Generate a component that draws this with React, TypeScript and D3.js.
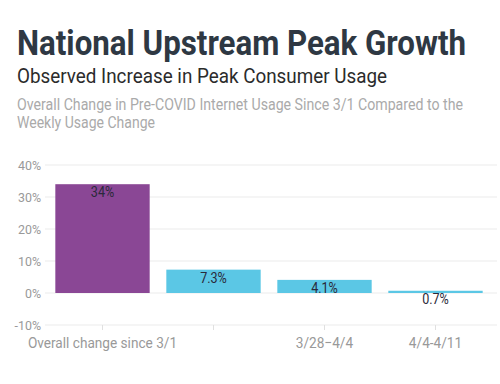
import React from 'react'
import * as d3 from 'd3'

const categories = ['Overall change since 3/1', '3/21–3/28', '3/28–4/4', '4/4-4/11']
const shownLabels = ['Overall change since 3/1', '', '3/28−4/4', '4/4-4/11']
const values = [34, 7.3, 4.1, 0.7]
const valueLabels = ['34%', '7.3%', '4.1%', '0.7%']
const yTicks = [-10, 0, 10, 20, 30, 40]

const W = 500, H = 384
const margin = { top: 165, right: 3, bottom: 59, left: 47 }
const font = 'Roboto, "Noto Sans", sans-serif'

export default function App() {
  const x = d3.scaleBand<string>()
    .domain(categories)
    .range([margin.left, 491])
    .paddingInner(0.15)
    .paddingOuter(0.075)
  const y = d3.scaleLinear().domain([-10, 40]).range([H - margin.bottom, margin.top])

  return (
    <svg width={W} height={H} style={{ position: 'absolute', left: 0, top: 0, background: '#fff' }}>
      <text x={17} y={55} fontFamily={font} fontWeight={700} fontSize={35} fill="#2e3843"
        textLength={449} lengthAdjust="spacingAndGlyphs">National Upstream Peak Growth</text>
      <text x={17} y={83} fontFamily={font} fontSize={21} fill="#2b2b2b"
        textLength={370} lengthAdjust="spacingAndGlyphs">Observed Increase in Peak Consumer Usage</text>
      <text x={17} y={110} fontFamily={font} fontSize={16} fill="#aaa"
        textLength={446} lengthAdjust="spacingAndGlyphs">Overall Change in Pre-COVID Internet Usage Since 3/1 Compared to the</text>
      <text x={17} y={128} fontFamily={font} fontSize={16} fill="#aaa"
        textLength={138} lengthAdjust="spacingAndGlyphs">Weekly Usage Change</text>

      {yTicks.map(t => (
        <g key={t}>
          <line x1={margin.left - 2} x2={497} y1={y(t)} y2={y(t)} stroke="#ebebeb" strokeWidth={1} />
          <text transform={`translate(41,${y(t) + 5}) scale(0.92,1)`} textAnchor="end"
            fontFamily={font} fontSize={13.5} fill="#999">{t}%</text>
        </g>
      ))}

      {categories.map((c, i) => {
        const v = values[i]
        const bx = x(c)!
        const cx = bx + x.bandwidth() / 2
        const top = y(Math.max(0, v))
        const h = Math.abs(y(v) - y(0))
        return (
          <g key={c}>
            <rect x={bx} y={top} width={x.bandwidth()} height={h}
              fill={i === 0 ? '#8a4795' : '#5bc7e5'} />
            <text transform={`translate(${cx},${y(v) + 13}) scale(0.9,1)`} textAnchor="middle"
              fontFamily={font} fontSize={14} fill="#2a2a3a">{valueLabels[i]}</text>
            <line x1={cx} x2={cx} y1={y(-10)} y2={y(-10) + 5} stroke="#e0e0e0" />
            <text transform={`translate(${cx},${y(-10) + 23}) scale(0.88,1)`} textAnchor="middle"
              fontFamily={font} fontSize={15.5} fill="#999">{shownLabels[i]}</text>
          </g>
        )
      })}
    </svg>
  )
}
